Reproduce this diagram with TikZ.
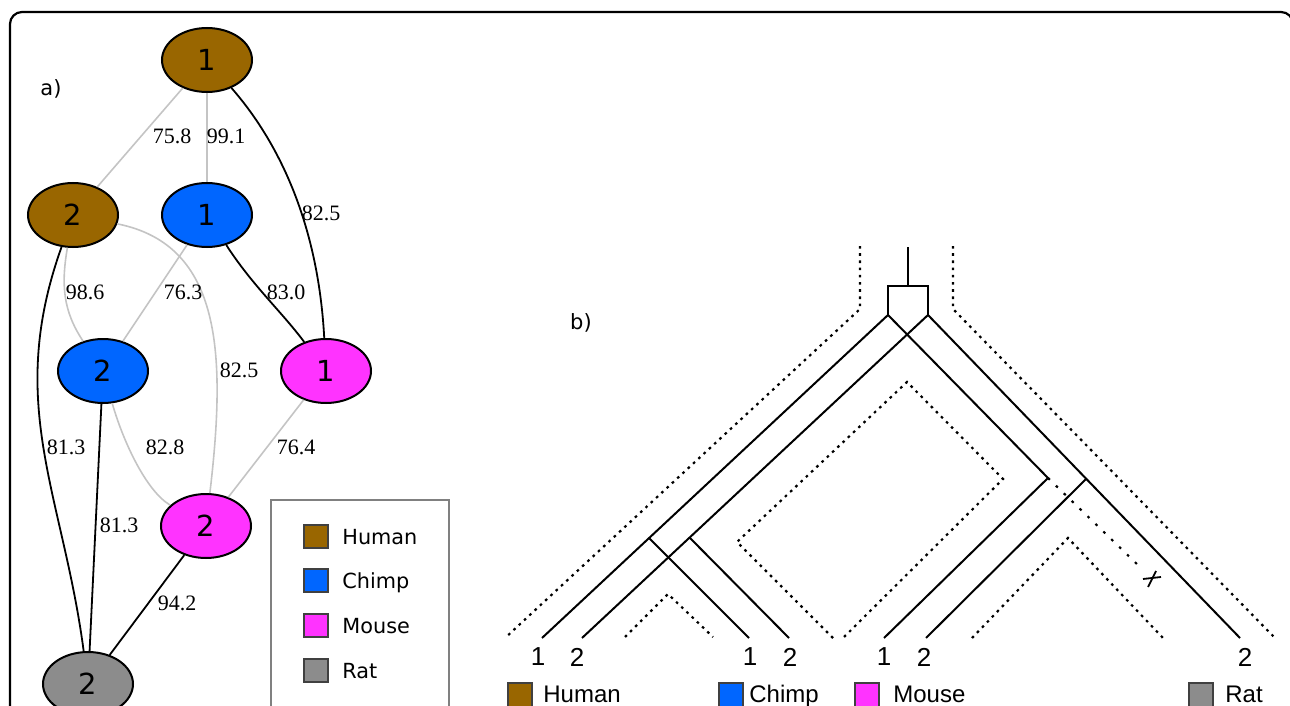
\documentclass[tikz,border=0pt]{standalone}
\usepackage{fontspec}
\setmainfont{Liberation Serif}
\setsansfont{DejaVu Sans}
\newfontfamily\leaffont{Liberation Sans}
\usetikzlibrary{shapes.geometric}

\definecolor{human}{HTML}{996600}
\definecolor{chimp}{HTML}{0066FF}
\definecolor{mouse}{HTML}{FF33FF}
\definecolor{rat}{HTML}{8C8C8C}
\definecolor{faint}{HTML}{C4C4C4}

\begin{document}
\begin{tikzpicture}[x=0.5pt,y=-0.5pt,
  gnode/.style={ellipse,draw=black,line width=1pt,minimum width=45pt,minimum height=32pt,inner sep=0pt,font=\sffamily\fontsize{14.5}{14.5}\selectfont},
  faintedge/.style={draw=faint,line width=0.8pt},
  boldedge/.style={draw=black,line width=0.9pt},
  score/.style={inner sep=0pt,font=\rmfamily\fontsize{11}{11}\selectfont},
  swatch/.style={draw=black!75,line width=0.7pt},
  keytext/.style={anchor=base west,inner sep=0pt,font=\sffamily\fontsize{10.4}{10.4}\selectfont},
  leaftext/.style={anchor=base west,inner sep=0pt,font=\leaffont\fontsize{12}{12}\selectfont},
  leafnum/.style={inner sep=0pt,font=\leaffont\fontsize{13}{13}\selectfont},
  sptree/.style={line width=1.1pt,dash pattern=on 1.3pt off 2.3pt},
  losttree/.style={line width=1.1pt,dash pattern=on 1.3pt off 4.2pt},
  genecopy/.style={line width=1pt},
  panel/.style={inner sep=0pt,font=\sffamily\fontsize{10.5}{10.5}\selectfont},
]
%%%%% START %%%%%
\useasboundingbox (0,0) rectangle (1290,706);
\def\sq{24}

\draw[line width=1.1pt,rounded corners=6pt] (10,730) -- (10,12) -- (1293,12) -- (1293,730);

% a) graph
\node[panel] (alab) at (51,89) {a)};

\node[gnode,fill=human] (h1) at (207,60) {1};
\node[gnode,fill=human] (h2) at (73,215) {2};
\node[gnode,fill=chimp] (c1) at (207,215) {1};
\node[gnode,fill=chimp] (c2) at (103,371) {2};
\node[gnode,fill=mouse] (m1) at (326,371) {1};
\node[gnode,fill=mouse] (m2) at (206,526) {2};
\node[gnode,fill=rat] (r2) at (88,684) {2};

\draw[faintedge] (h1) -- (h2);
\draw[faintedge] (h1) -- (c1);
\draw[boldedge] (h1) .. controls +(70,80) and +(-8,-150) .. (m1);
\draw[faintedge] (h2) .. controls +(-12,70) and +(-40,-60) .. (c2);
\draw[boldedge] (h2) .. controls +(-68,190) and +(-25,-190) .. (r2);
\draw[faintedge] (h2) .. controls +(150,30) and +(20,-170) .. (m2);
\draw[faintedge] (c1) -- (c2);
\draw[boldedge] (c1) .. controls +(45,70) and +(-45,-60) .. (m1);
\draw[faintedge] (c2) .. controls +(20,70) and +(-60,-35) .. (m2);
\draw[boldedge] (c2) -- (r2);
\draw[faintedge] (m1) -- (m2);
\draw[boldedge] (m2) -- (r2);

\node[score] (s1) at (172,136) {75.8};
\node[score] (s2) at (226,136) {99.1};
\node[score] (s3) at (321,213) {82.5};
\node[score] (s4) at (85,292) {98.6};
\node[score] (s5) at (183,292) {76.3};
\node[score] (s6) at (286,292) {83.0};
\node[score] (s7) at (239,370) {82.5};
\node[score] (s8) at (66,447) {81.3};
\node[score] (s9) at (165,447) {82.8};
\node[score] (s10) at (296,447) {76.4};
\node[score] (s11) at (119,525) {81.3};
\node[score] (s12) at (177,603) {94.2};

% legend of a)
\draw[draw=black!50,line width=0.6pt] (271,500) rectangle (449,730);
\draw[swatch,fill=human] (304,525) rectangle (328,548);
\draw[swatch,fill=chimp] (304,569) rectangle (328,592);
\draw[swatch,fill=mouse] (304,614) rectangle (328,637);
\draw[swatch,fill=rat] (304,659) rectangle (328,682);
\node[keytext] (khuman) at (342,544) {Human};
\node[keytext] (kchimp) at (342,588) {Chimp};
\node[keytext] (kmouse) at (342,633) {Mouse};
\node[keytext] (krat) at (342,678) {Rat};

% b) trees
\node[panel] (blab) at (581,323) {b)};

\draw[sptree] (860,246) -- (860,309) -- (505,638);
\draw[sptree] (953,246) -- (953,309) -- (1275,638);
\draw[sptree] (833,638) -- (737,542) -- (907,382) -- (1003,479) -- (843,638);
\draw[sptree] (625,637) -- (668,594) -- (713,637);
\draw[sptree] (972,638) -- (1068,538) -- (1163,638);

\coordinate (stem) at (908,247);
\coordinate (dupL) at (888,315);
\coordinate (dupR) at (928,315);
\coordinate (hsp1) at (649,538);
\coordinate (hsp2) at (690,538);
\coordinate (turn1) at (1048,478);
\coordinate (turn2) at (1086,479);
\coordinate (lost) at (1140,567);
\coordinate (tipH1) at (542,638);
\coordinate (tipH2) at (582,638);
\coordinate (tipC1) at (749,638);
\coordinate (tipC2) at (789,638);
\coordinate (tipM1) at (884,638);
\coordinate (tipM2) at (926,638);
\coordinate (tipR2) at (1240,638);

\draw[genecopy] (stem) -- (908,286);
\draw[genecopy] (dupL) -- ++(0,-29) -| (dupR);
\draw[genecopy] (dupL) -- (tipH1);
\draw[genecopy] (dupR) -- (tipH2);
\draw[genecopy] (hsp1) -- (tipC1);
\draw[genecopy] (hsp2) -- (tipC2);
\draw[genecopy] (dupL) -- (turn1) -- (tipM1);
\draw[genecopy] (dupR) -- (tipR2);
\draw[genecopy] (turn2) -- (tipM2);
\draw[losttree] (turn1) -- (lost);
\draw[line width=0.9pt] (1156,571) -- (1148,587);
\draw[line width=0.9pt] (1143,579) -- (1161,577);

\node[leafnum] (nH1) at (538,657) {1};
\node[leafnum] (nH2) at (577,657) {2};
\node[leafnum] (nC1) at (750,657) {1};
\node[leafnum] (nC2) at (790,657) {2};
\node[leafnum] (nM1) at (884,657) {1};
\node[leafnum] (nM2) at (924,657) {2};
\node[leafnum] (nR2) at (1245,657) {2};

\draw[swatch,fill=human] (508,683) rectangle (508+\sq,683+\sq);
\draw[swatch,fill=chimp] (719,683) rectangle (719+\sq,683+\sq);
\draw[swatch,fill=mouse] (855,683) rectangle (855+\sq,683+\sq);
\draw[swatch,fill=rat] (1189,683) rectangle (1189+\sq,683+\sq);
\node[leaftext] (bhuman) at (543,702) {Human};
\node[leaftext] (bchimp) at (749,702) {Chimp};
\node[leaftext] (bmouse) at (893,702) {Mouse};
\node[leaftext] (brat) at (1225,702) {Rat};
%%%%% END %%%%%
\end{tikzpicture}
\end{document}
